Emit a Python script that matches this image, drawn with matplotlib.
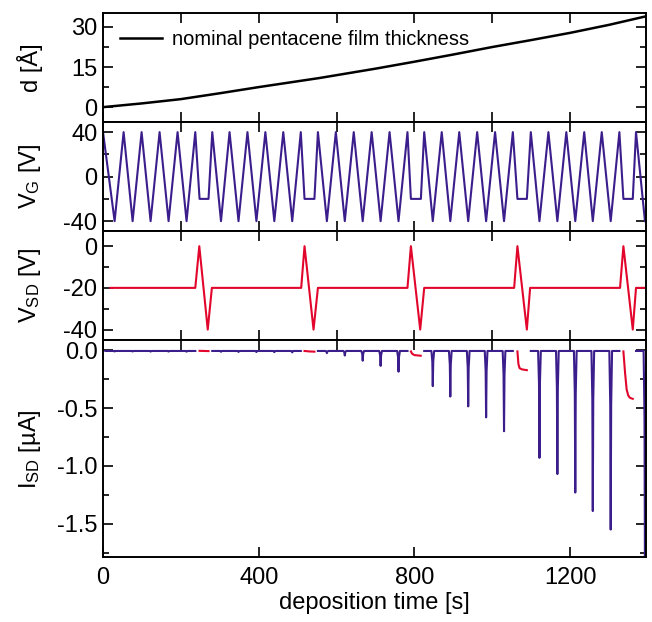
import matplotlib
matplotlib.use("Agg")
import matplotlib.pyplot as plt
import numpy as np
from matplotlib.ticker import MultipleLocator, FixedLocator

plt.rcParams['font.family'] = ['Liberation Sans', 'DejaVu Sans']
plt.rcParams['mathtext.fontset'] = 'custom'
plt.rcParams['mathtext.rm'] = 'Liberation Sans'
plt.rcParams['mathtext.default'] = 'rm'
plt.rcParams['axes.unicode_minus'] = False

# ----------------------
# Data
# ----------------------
# nominal film thickness
d_time = [0, 100, 200, 300, 400, 556, 700, 800, 900, 1000, 1100, 1200, 1300, 1395]
d_thick = [0, 1.4, 3.0, 5.2, 7.5, 10.9, 14.4, 17.0, 19.7, 22.5, 25.1, 27.8, 30.8, 34.0]

# gate voltage turning points
vg_time = [0, 29.8, 52.9, 76.0, 99.1, 122.2, 145.3, 168.4, 191.5, 214.6, 237.0,
           248.0, 271.0, 280.6, 303, 325, 348, 371, 394, 417, 440, 463, 486, 508,
           517.6, 543, 552, 575, 598, 621, 644, 667, 690, 713, 736, 759, 782,
           790.8, 816.4, 825, 847, 870, 892, 915, 938, 961, 984, 1007, 1030, 1052.6,
           1064.4, 1088.6, 1098.8, 1121, 1144, 1167, 1190, 1213, 1236, 1258, 1281, 1304, 1326.3,
           1336.6, 1360.7, 1369, 1392]
vg_volt = [40, -40, 40, -40, 40, -40, 40, -40, 40, -40, 40,
           -20, -20, 40, -40, 40, -40, 40, -40, 40, -40, 40, -40, 40,
           -20, -20, 40, -40, 40, -40, 40, -40, 40, -40, 40, -40, 40,
           -20, -20, 40, -40, 40, -40, 40, -40, 40, -40, 40, -40, 40,
           -20, -20, 40, -40, 40, -40, 40, -40, 40, -40, 40, -40, 40,
           -20, -20, 40, -40]

# source-drain voltage turning points
vsd_time = [19, 237, 247.3, 269, 279.6, 509, 517.6, 540.7, 552, 782, 790.8, 814.7, 825,
            1056, 1064.4, 1088.6, 1097, 1328, 1336.6, 1360.7, 1369, 1395]
vsd_volt = [-20, -20, 0, -40, -20, -20, 0, -40, -20, -20, 0, -40, -20,
            -20, 0, -40, -20, -20, 0, -40, -20, -20]

# source-drain current: transfer sweeps (purple)
isd_base = -0.006
isd_seg_start = [6, 280.6, 552, 825, 1098.8, 1369]
isd_seg_end = [237, 508, 782, 1052.6, 1326.3, 1395]
spike_time = [29.8, 76.0, 122.2, 168.4, 214.6,
              303, 348, 394, 440, 486,
              575, 621, 667, 713, 759,
              847, 892, 938, 984, 1030,
              1121, 1167, 1213, 1258, 1304,
              1392]
spike_depth = [-0.010, -0.010, -0.011, -0.011, -0.012,
               -0.013, -0.014, -0.015, -0.016, -0.018,
               -0.025, -0.045, -0.09, -0.135, -0.185,
               -0.31, -0.40, -0.485, -0.58, -0.70,
               -0.93, -1.07, -1.23, -1.39, -1.55,
               -1.95]

# source-drain current: output sweeps (red)
out_time = [[248, 271],
            [517.6, 530, 543],
            [790.8, 794, 800, 816],
            [1064.4, 1067, 1070, 1076, 1088.6],
            [1336.6, 1341, 1345, 1349, 1353, 1360.7]]
out_curr = [[-0.005, -0.007],
            [-0.006, -0.010, -0.012],
            [-0.010, -0.030, -0.042, -0.047],
            [-0.010, -0.120, -0.155, -0.165, -0.172],
            [-0.010, -0.200, -0.340, -0.390, -0.410, -0.420]]

PURPLE = '#3b1e8c'
RED = '#e2062c'

# spike drawing template (shape only)
SPIKE_OFF = [-3.5, -1.2, 0, 1.2, 3.5]
SPIKE_FRAC = [0, 0.3, 1, 0.3, 0]


def build_isd_trace():
    t, cur = [], []
    for s, e in zip(isd_seg_start, isd_seg_end):
        t.append(s)
        cur.append(isd_base)
        for ts, dep in zip(spike_time, spike_depth):
            if s < ts < e + 5:
                for off, frac in zip(SPIKE_OFF, SPIKE_FRAC):
                    t.append(ts + off)
                    cur.append(isd_base + frac * (dep - isd_base))
        t.append(e)
        cur.append(isd_base)
        t.append(np.nan)
        cur.append(np.nan)
    return t, cur


fig, axes = plt.subplots(4, 1, figsize=(6.52, 6.22), dpi=100,
                         gridspec_kw={'height_ratios': [109, 109, 109, 217], 'hspace': 0})
fig.subplots_adjust(left=0.158, right=0.991, top=0.979, bottom=0.104)
ax_d, ax_vg, ax_vsd, ax_isd = axes

# thickness
ax_d.plot(d_time, d_thick, color='black', lw=1.8, label='nominal pentacene film thickness')
ax_d.set_ylim(-5.6, 35.2)
ax_d.yaxis.set_major_locator(FixedLocator([0, 15, 30]))
ax_d.yaxis.set_minor_locator(MultipleLocator(7.5))
ax_d.set_ylabel('d [Å]')
ax_d.legend(loc='upper left', frameon=False, fontsize=14.5, handlelength=2.1,
            handletextpad=0.5, borderaxespad=0.55, borderpad=0.3)

# gate voltage
ax_vg.plot(vg_time, vg_volt, color=PURPLE, lw=1.5)
ax_vg.set_ylim(-49, 49)
ax_vg.yaxis.set_major_locator(FixedLocator([-40, 0, 40]))
ax_vg.yaxis.set_minor_locator(MultipleLocator(20))
ax_vg.set_ylabel('V$_{G}$ [V]')

# source-drain voltage
ax_vsd.plot(vsd_time, vsd_volt, color=RED, lw=1.5)
ax_vsd.set_ylim(-45.1, 7.2)
ax_vsd.yaxis.set_major_locator(FixedLocator([-40, -20, 0]))
ax_vsd.yaxis.set_minor_locator(MultipleLocator(10))
ax_vsd.set_ylabel('V$_{SD}$ [V]')

# source-drain current
isd_t, isd_c = build_isd_trace()
ax_isd.plot(isd_t, isd_c, color=PURPLE, lw=1.5)
for ot, oc in zip(out_time, out_curr):
    ax_isd.plot(ot, oc, color=RED, lw=1.5)
ax_isd.set_ylim(-1.79, 0.087)
ax_isd.yaxis.set_major_locator(FixedLocator([-1.5, -1.0, -0.5, 0.0]))
ax_isd.yaxis.set_minor_locator(MultipleLocator(0.25))
ax_isd.yaxis.set_major_formatter(matplotlib.ticker.FormatStrFormatter('%.1f'))
ax_isd.set_ylabel('I$_{SD}$ [µA]')
ax_isd.set_xlabel('deposition time [s]', fontsize=17, labelpad=2)

for ax in axes:
    ax.set_xlim(0, 1395)
    ax.tick_params(which='both', direction='in', top=True, right=True, width=1.2,
                   labelsize=17, pad=4)
    ax.tick_params(which='major', length=7)
    ax.tick_params(which='minor', length=4.5)
    ax.yaxis.label.set_size(17)
    ax.yaxis.set_label_coords(-0.11, 0.5)
    for sp in ax.spines.values():
        sp.set_linewidth(1.4)

for ax in axes[:3]:
    ax.xaxis.set_major_locator(MultipleLocator(200))
    ax.tick_params(axis='x', labelbottom=False)

ax_isd.xaxis.set_major_locator(MultipleLocator(400))
ax_isd.xaxis.set_minor_locator(MultipleLocator(200))
ax_isd.tick_params(axis='x', which='minor', bottom=False, top=True, length=7)
ax_isd.tick_params(axis='x', which='major', pad=7)

fig.savefig('out.png', dpi=100)
